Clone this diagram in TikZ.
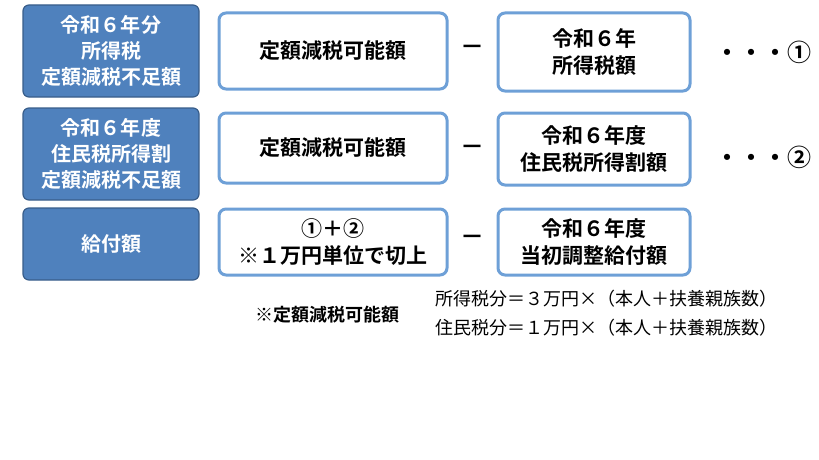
\documentclass[tikz,border=0pt]{standalone}
\usepackage{fontspec}
\setmainfont{Noto Sans CJK JP}[BoldFont={Noto Sans CJK JP Bold}]
\definecolor{kblue}{RGB}{79,129,189}
\definecolor{kedge}{RGB}{56,93,138}
\definecolor{kline}{RGB}{110,160,215}
\tikzset{
  headbox/.style={draw=kedge, line width=1.2pt, fill=kblue, rounded corners=6pt,
    text=white, font=\bfseries\fontsize{20}{26}\selectfont, align=center},
  itembox/.style={draw=kline, line width=3pt, fill=white, rounded corners=7pt,
    font=\bfseries\fontsize{21}{27}\selectfont, align=center},
  opmark/.style={font=\bfseries\fontsize{24}{24}\selectfont},
  notetext/.style={font=\fontsize{18}{22}\selectfont, anchor=west}
}
\begin{document}
\begin{tikzpicture}[x=1pt,y=-1pt]
\useasboundingbox (0,0) rectangle (819,460);
% left boxes
\node[headbox, minimum width=176pt, minimum height=92pt] (h1) at (111,51) {令和６年分\\所得税\\定額減税不足額};
\node[headbox, minimum width=176pt, minimum height=92pt] (h2) at (111,154) {令和６年度\\住民税所得割\\定額減税不足額};
\node[headbox, minimum width=176pt, minimum height=72pt] (h3) at (111,244) {給付額};
% middle boxes
\node[itembox, minimum width=228pt, minimum height=76pt] (a1) at (333,51) {定額減税可能額};
\node[itembox, minimum width=228pt, minimum height=70pt] (a2) at (333,148) {定額減税可能額};
\node[itembox, minimum width=228pt, minimum height=66pt] (a3) at (333,242) {①＋②\\※１万円単位で切上};
% right boxes
\node[itembox, minimum width=192pt, minimum height=78pt] (b1) at (594,52) {令和６年\\所得税額};
\node[itembox, minimum width=192pt, minimum height=72pt] (b2) at (594,149) {令和６年度\\住民税所得割額};
\node[itembox, minimum width=192pt, minimum height=66pt] (b3) at (594,242) {令和６年度\\当初調整給付額};
% minus signs
\node[opmark] (m1) at (472,50) {－};
\node[opmark] (m2) at (472,150) {－};
\node[opmark] (m3) at (472,240) {－};
% results
\node[opmark, anchor=west] (r1) at (712,52) {・・・①};
\node[opmark, anchor=west] (r2) at (712,157) {・・・②};
% note
\node[notetext, font=\bfseries\fontsize{18}{22}\selectfont] (n0) at (252,315) {※定額減税可能額};
\node[notetext] (n1) at (432,299) {所得税分＝３万円×（本人＋扶養親族数）};
\node[notetext] (n2) at (432,328) {住民税分＝１万円×（本人＋扶養親族数）};
\end{tikzpicture}
\end{document}
